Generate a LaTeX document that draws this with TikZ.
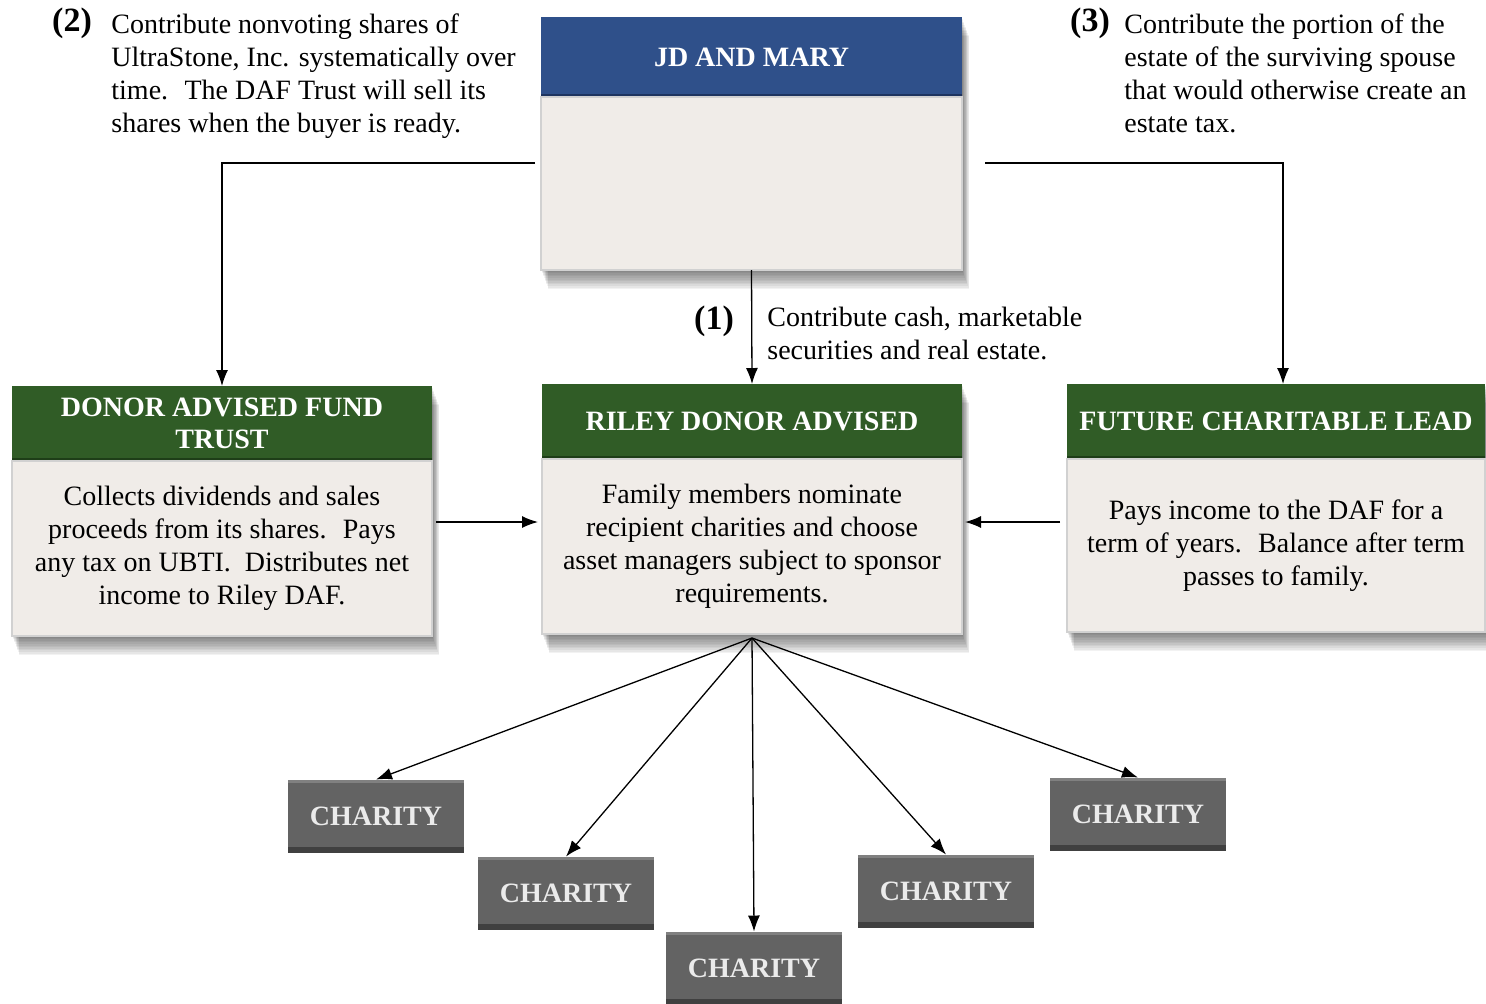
\documentclass[tikz,border=0pt]{standalone}
\usepackage{fontspec}
\setmainfont{Liberation Serif}
\usetikzlibrary{positioning,calc,arrows.meta,backgrounds}
\definecolor{jdBlue}{RGB}{47,80,138}
\definecolor{jdBlueDark}{RGB}{30,52,95}
\definecolor{fundGreen}{RGB}{48,92,38}
\definecolor{fundGreenDark}{RGB}{30,62,24}
\definecolor{bodyFill}{RGB}{240,236,232}
\tikzset{
    headbox/.style={
        anchor=north west,
        outer sep=0pt,
        inner sep=2pt,
        align=center,
        text=white,
        font=\fontsize{14}{16}\selectfont\bfseries,
        path picture={\fill[#1] (path picture bounding box.south west) rectangle ([yshift=1.5pt]path picture bounding box.south east);}
    },
    bodybox/.style={
        anchor=north west,
        outer sep=0pt,
        fill=bodyFill,
        draw=black!18,
        line width=0.8pt,
        align=center,
        font=\fontsize{14}{16.5}\selectfont
    },
    charity/.style={
        fill=black!61,
        minimum width=88pt,
        minimum height=36.5pt,
        outer sep=0pt,
        text=white!92!black,
        font=\fontsize{14}{16}\selectfont\bfseries,
        path picture={
            \fill[black!75] (path picture bounding box.south west) rectangle ([yshift=3pt]path picture bounding box.south east);
            \fill[black!50] ([yshift=-1.5pt]path picture bounding box.north west) rectangle (path picture bounding box.north east);}
    },
    note/.style={anchor=north west, inner sep=0pt, align=left, font=\fontsize{14}{16.5}\selectfont},
    stepnum/.style={inner sep=0pt, font=\fontsize{17}{20}\selectfont\bfseries},
    ptr/.style={-{Latex[length=8pt,width=6pt]}, line width=0.65pt}
}
\newcommand{\dropshade}[2]{%
    \foreach \s in {1,...,12}
        \fill[black, opacity=0.05] ([shift={(0.6*\s,1.6*\s)}]#1) rectangle ([shift={(0.6*\s,1.6*\s)}]#2);}

\begin{document}
\begin{tikzpicture}[x=0.5pt, y=-0.5pt]
    \useasboundingbox (0,0) rectangle (1486,1003);

    % boxes
    \node[headbox=jdBlueDark, fill=jdBlue, minimum width=210.5pt, minimum height=40pt] (jdh) at (541,17) {JD AND MARY};
    \node[bodybox, minimum width=210.5pt, minimum height=86.5pt] (jd) at (jdh.south west) {};

    \node[headbox=fundGreenDark, fill=fundGreen, minimum width=210pt, minimum height=37.5pt] (dafh) at (12,386) {DONOR ADVISED FUND\\TRUST};
    \node[bodybox, minimum width=210pt, minimum height=87.5pt] (daf) at (dafh.south west)
        {Collects dividends and sales\\proceeds from its shares.~ Pays\\any tax on UBTI.~ Distributes net\\income to Riley DAF.};

    \node[headbox=fundGreenDark, fill=fundGreen, minimum width=210pt, minimum height=37.5pt] (rileyh) at (542,384) {RILEY DONOR ADVISED};
    \node[bodybox, minimum width=210pt, minimum height=87.5pt] (riley) at (rileyh.south west)
        {Family members nominate\\recipient charities and choose\\asset managers subject to sponsor\\requirements.};

    \node[headbox=fundGreenDark, fill=fundGreen, minimum width=209pt, minimum height=37.5pt] (futh) at (1067,384) {FUTURE CHARITABLE LEAD};
    \node[bodybox, minimum width=209pt, minimum height=86.5pt] (fut) at (futh.south west)
        {Pays income to the DAF for a\\term of years.~ Balance after term\\passes to family.};

    \node[charity] (c1) at (376,816) {CHARITY};
    \node[charity] (c2) at (566,893) {CHARITY};
    \node[charity] (c3) at (754,968) {CHARITY};
    \node[charity] (c4) at (946,891) {CHARITY};
    \node[charity] (c5) at (1138,814) {CHARITY};

    \begin{scope}[on background layer]
        \dropshade{jdh.north west}{jd.south east}
        \dropshade{dafh.north west}{daf.south east}
        \dropshade{rileyh.north west}{riley.south east}
        \dropshade{futh.north west}{fut.south east}
    \end{scope}

    % notes
    \node[note] (note2) at (111,13) {Contribute nonvoting shares of\\UltraStone, Inc. systematically over\\time.~ The DAF Trust will sell its\\shares when the buyer is ready.};
    \node[stepnum] (num2) at (72,23) {(2)};
    \node[note] (note3) at (1124,13) {Contribute the portion of the\\estate of the surviving spouse\\that would otherwise create an\\estate tax.};
    \node[stepnum] (num3) at (1090,23) {(3)};
    \node[note] (note1) at (767,307) {Contribute cash, marketable\\securities and real estate.};
    \node[stepnum] (num1) at (714,321) {(1)};

    % connectors
    \draw[ptr] ($(jd.north west)+(-6,66)$) -| (dafh.north);
    \draw[ptr] ($(jd.north east)+(23,66)$) -| ($(futh.north)+(7,0)$);
    \draw[ptr] (jd.south) -- (rileyh.north);
    \draw[ptr] ($(daf.north east)+(4,61)$) -- ($(riley.north west)+(-4,63)$);
    \draw[ptr] ($(fut.north west)+(-7,63)$) -- ($(riley.north east)+(3,63)$);
    \foreach \c in {c1,c2,c3,c4,c5}
        \draw[ptr] ([yshift=-2pt]riley.south) -- (\c.north);
\end{tikzpicture}
\end{document}
